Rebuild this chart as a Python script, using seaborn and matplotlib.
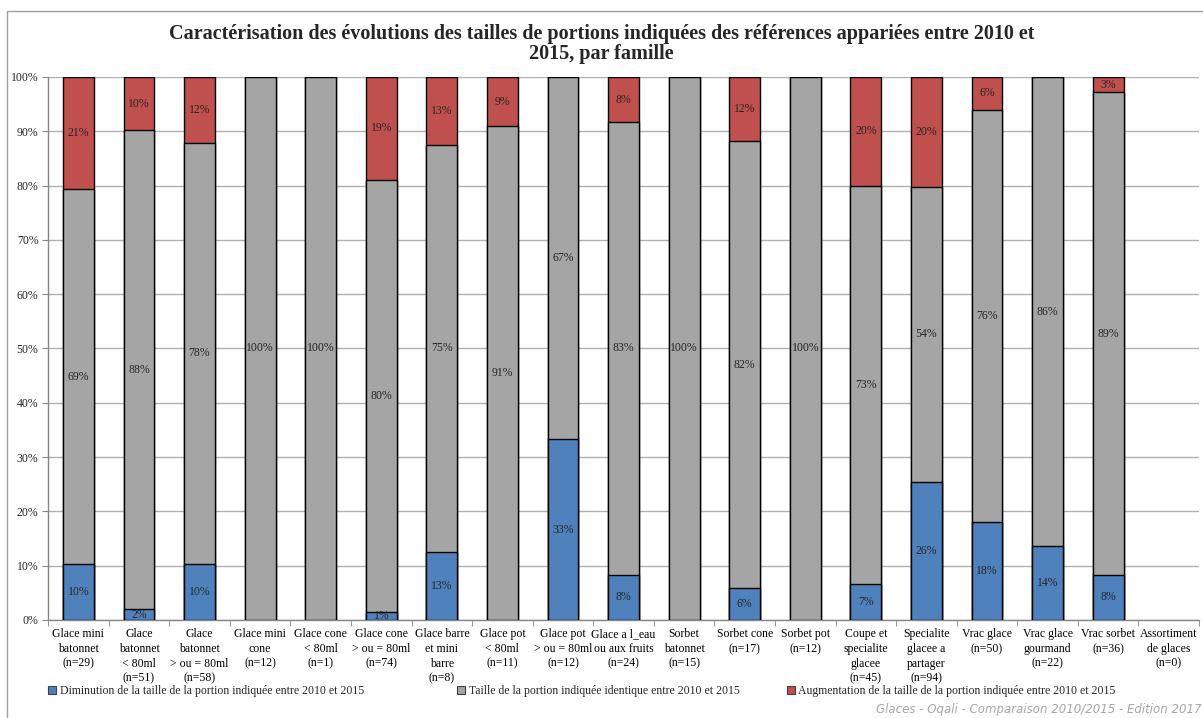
import math
import matplotlib
matplotlib.use("Agg")
import matplotlib.pyplot as plt
import matplotlib.patches as mpatches
from matplotlib.ticker import FuncFormatter, FixedLocator
import seaborn as sns
import pandas as pd

familles = ["Glace mini\nbatonnet\n(n=29)", "Glace\nbatonnet\n< 80ml\n(n=51)",
            "Glace\nbatonnet\n> ou = 80ml\n(n=58)", "Glace mini\ncone\n(n=12)",
            "Glace cone\n< 80ml\n(n=1)", "Glace cone\n> ou = 80ml\n(n=74)",
            "Glace barre\net mini\nbarre\n(n=8)", "Glace pot\n< 80ml\n(n=11)",
            "Glace pot\n> ou = 80ml\n(n=12)", "Glace a l_eau\nou aux fruits\n(n=24)",
            "Sorbet\nbatonnet\n(n=15)", "Sorbet cone\n(n=17)", "Sorbet pot\n(n=12)",
            "Coupe et\nspecialite\nglacee\n(n=45)", "Specialite\nglacee a\npartager\n(n=94)",
            "Vrac glace\n(n=50)", "Vrac glace\ngourmand\n(n=22)", "Vrac sorbet\n(n=36)",
            "Assortiment\nde glaces\n(n=0)"]

# parts en % par famille
diminution = [10.3, 2.0, 10.3, 0, 0, 1.4, 12.5, 0, 33.3, 8.3, 0, 5.9, 0, 6.7, 25.5, 18.0, 13.6, 8.3, 0]
identique = [69.0, 88.2, 77.6, 100, 100, 79.7, 75.0, 90.9, 66.7, 83.4, 100, 82.3, 100, 73.3, 54.3, 76.0, 86.4, 88.9, 0]
augmentation = [20.7, 9.8, 12.1, 0, 0, 18.9, 12.5, 9.1, 0, 8.3, 0, 11.8, 0, 20.0, 20.2, 6.0, 0, 2.8, 0]

series = ["Diminution de la taille de la portion indiquée entre 2010 et 2015",
          "Taille de la portion indiquée identique entre 2010 et 2015",
          "Augmentation de la taille de la portion indiquée entre 2010 et 2015"]
couleurs = ["#4F81BD", "#A5A5A5", "#C0504D"]

df = pd.DataFrame({"famille": familles, "dim": diminution, "id": identique, "aug": augmentation})
df["cum_id"] = df["dim"] + df["id"]
df["cum_aug"] = df["cum_id"] + df["aug"]

sns.set_style("white")
plt.rcParams["font.family"] = ["Liberation Serif", "DejaVu Serif"]

fig = plt.figure(figsize=(12.03, 7.18), dpi=100)
ax = fig.add_axes([0.040, 0.1365, 0.9567, 0.7563])

# barres empilees (superposition des cumuls)
for col, c in zip(["cum_aug", "cum_id", "dim"], couleurs[::-1]):
    sns.barplot(data=df, x="famille", y=col, color=c, saturation=1, width=0.51,
                edgecolor="black", linewidth=1, ax=ax, zorder=3)
for p in ax.patches:
    if p.get_height() == 0:
        p.set_linewidth(0)

# etiquettes de donnees
for i in range(len(familles)):
    bas = 0
    for v in (diminution[i], identique[i], augmentation[i]):
        if v > 0:
            ax.text(i, bas + v / 2, f"{math.floor(v + 0.5)}%", ha="center", va="center",
                    fontsize=8.5, color="#262626", zorder=5)
        bas += v

ax.set_ylim(0, 100)
ax.set_xlim(-0.5, len(familles) - 0.5)
ax.set_yticks(range(0, 101, 10))
ax.yaxis.set_major_formatter(FuncFormatter(lambda v, _: f"{int(v)}%"))
ax.grid(axis="y", color="#B0B0B0", linewidth=1, zorder=0)
ax.set_xlabel("")
ax.set_ylabel("")
ax.tick_params(axis="x", which="major", length=0, pad=6, labelsize=8.5, colors="black")
ax.xaxis.set_minor_locator(FixedLocator([k - 0.5 for k in range(len(familles) + 1)]))
ax.tick_params(axis="x", which="minor", length=4, color="#868686", direction="out", bottom=True)
ax.tick_params(axis="y", length=4, color="#868686", direction="out", left=True, labelsize=8.5, pad=3)
for t in ax.get_xticklabels():
    t.set_linespacing(1.3)
for s in ["top", "right"]:
    ax.spines[s].set_visible(False)
for s in ["left", "bottom"]:
    ax.spines[s].set_color("#868686")
    ax.spines[s].set_linewidth(1)

fig.suptitle("Caractérisation des évolutions des tailles de portions indiquées des références appariées entre 2010 et\n2015, par famille",
             x=0.5, y=0.966, fontsize=14.5, fontweight="bold", linespacing=1.0)

# legende
for nom, c, x in zip(series, couleurs, [0.031, 0.371, 0.645]):
    h = mpatches.Patch(facecolor=c, edgecolor="#404040", linewidth=0.8)
    fig.legend(handles=[h], labels=[nom], loc="center left", bbox_to_anchor=(x, 0.037),
               frameon=False, fontsize=8.5, handlelength=0.7, handleheight=0.7, handletextpad=0.3)

fig.text(0.999, 0.0125, "Glaces - Oqali - Comparaison 2010/2015 - Edition 2017", ha="right",
         va="center", fontsize=8.5, style="italic", color="#A6A6A6", family="DejaVu Sans")

fig.patches.append(mpatches.Rectangle((0.006, -0.05), 1.05, 1.035, transform=fig.transFigure,
                                      fill=False, edgecolor="#A0A0A0", linewidth=1))

fig.savefig("out.png", dpi=100)
